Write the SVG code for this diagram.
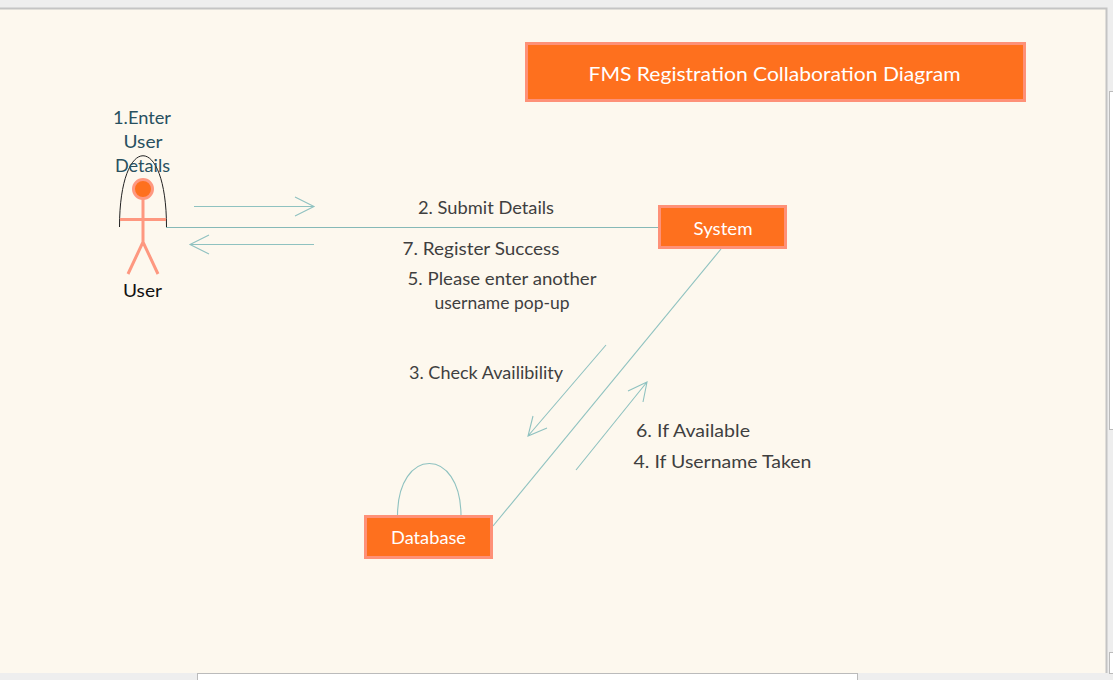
<svg xmlns="http://www.w3.org/2000/svg" width="1113" height="680" viewBox="0 0 1113 680">
<style>
text{font-family:"Comic Sans MS","Lato","Noto Sans",sans-serif;font-size:17px;fill:#3f3f3f;text-anchor:middle}
.box{fill:#fe701e;stroke:#fe9178;stroke-width:3}
.w{fill:#fff}
.c{fill:none;stroke:#86b9b7;stroke-width:1}
.a{fill:none;stroke:#8fc2c0;stroke-width:1.100}
.p{fill:none;stroke:#fe9880;stroke-width:3}
</style>
<rect width="1113" height="680" fill="#eeeeee"/>
<rect x="0" y="9" width="1106" height="664" fill="#fdf8ee"/>
<path d="M0 8.500H1106.500V673" fill="none" stroke="#c4c4c4" stroke-width="2"/>
<rect x="1109.500" y="91.500" width="5" height="338" fill="#fff" stroke="#bbb"/>
<rect x="1109.500" y="652.500" width="5" height="21" fill="#fff" stroke="#bbb"/>
<rect x="197.500" y="673.500" width="660" height="8" fill="#fff" stroke="#bbb"/>

<g id="connectors">
<path class="c" d="M166 227.500H659"/>
<path class="a" d="M721 249L493 526"/>
<path class="a" d="M194 206.500H314M295 197L314 206.500L295 216"/>
<path class="a" d="M314 244.500H190M209 235L190 244.500L209 254"/>
<path class="a" d="M606 345L528 436M533 416L528 436L547 428"/>
<path class="a" d="M576 470L647 382M628 391L647 382L643 402"/>
<path class="a" d="M397.500 516C397.500 446 461 446 461 516"/>
</g>

<g id="title">
<rect class="box" x="526.500" y="43.500" width="498" height="57"/>
<text class="w" x="774.500" y="81" style="font-size:20px" textLength="372" lengthAdjust="spacingAndGlyphs">FMS Registration Collaboration Diagram</text>
</g>

<g id="user">
<path d="M119.500 227C119.500 132 166.500 132 166.500 227" fill="none" stroke="#222" stroke-width="1"/>
<circle cx="143" cy="189" r="9.500" fill="#fe701e" stroke="#fe9880" stroke-width="3"/>
<path class="p" d="M143 199V242M120 219.500H166M128 274L143 242L158 274"/>
<text x="142.500" y="297" style="fill:#111" textLength="39" lengthAdjust="spacingAndGlyphs">User</text>
<text x="142" y="124" style="fill:#28505f" textLength="58" lengthAdjust="spacingAndGlyphs">1.Enter</text>
<text x="143" y="148" style="fill:#28505f" textLength="39" lengthAdjust="spacingAndGlyphs">User</text>
<text x="142.500" y="172" style="fill:#28505f" textLength="55" lengthAdjust="spacingAndGlyphs">Details</text>
</g>

<g id="system">
<rect class="box" x="659.500" y="206.500" width="126" height="41"/>
<text class="w" x="723" y="235" textLength="59" lengthAdjust="spacingAndGlyphs">System</text>
</g>

<g id="database">
<rect class="box" x="365.500" y="516.500" width="126" height="41"/>
<text class="w" x="428.500" y="544" textLength="75" lengthAdjust="spacingAndGlyphs">Database</text>
</g>

<g id="labels">
<text x="486" y="214" textLength="136" lengthAdjust="spacingAndGlyphs">2. Submit Details</text>
<text x="481" y="255" textLength="157" lengthAdjust="spacingAndGlyphs">7. Register Success</text>
<text x="502" y="285" textLength="189" lengthAdjust="spacingAndGlyphs">5. Please enter another</text>
<text x="502" y="309" textLength="135" lengthAdjust="spacingAndGlyphs">username pop-up</text>
<text x="486" y="379" textLength="154" lengthAdjust="spacingAndGlyphs">3. Check Availibility</text>
<text x="693" y="437" textLength="114" lengthAdjust="spacingAndGlyphs">6. If Available</text>
<text x="722.500" y="468" textLength="178" lengthAdjust="spacingAndGlyphs">4. If Username Taken</text>
</g>
</svg>
